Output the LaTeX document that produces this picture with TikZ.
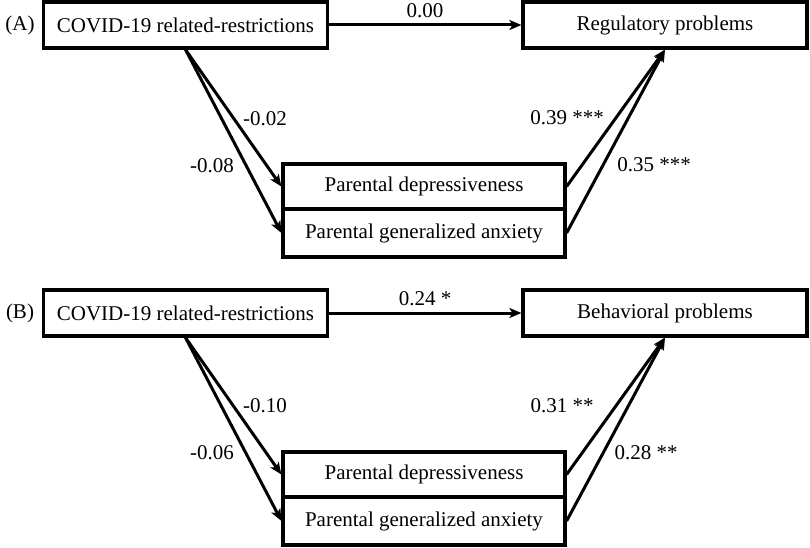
\documentclass[tikz,border=0pt]{standalone}
\usepackage{fontspec}
\setmainfont{Liberation Serif}
\usetikzlibrary{arrows, arrows.meta, positioning}
\tikzset{
>={Stealth[length=12pt, width=10pt, inset=3pt]}, % heavy arrow heads
var/.style={draw, line width=3.2pt, minimum width=284pt, minimum height=46pt, inner sep=0pt, font=\fontsize{21}{25}\selectfont}, % boxes for the variables
link/.style={->, line width=3pt}, % paths between the boxes
coef/.style={font=\fontsize{21}{25}\selectfont}, % path coefficients
}

\begin{document}
\begin{tikzpicture}[x=1pt, y=-1pt]
      \useasboundingbox (0,0) rectangle (810,548);

      % (A)
      \node[coef] (tagA) at (20,25) {(A)};
      \node[var] (covidA) at (185.5,25) {COVID-19 related-restrictions};
      \node[var] (regA) at (665,25) {Regulatory problems};
      \node[var, minimum width=282pt, minimum height=45pt] (depA) at (424,186.5) {Parental depressiveness};
      \node[var, minimum width=282pt, minimum height=48pt] (anxA) at (424,233) {Parental generalized anxiety};

      \node[coef] (cA) at (425,11) {0.00};
      \node[coef] (a1A) at (265,119) {-0.02};
      \node[coef] (a2A) at (212,166) {-0.08};
      \node[coef] (b1A) at (567,118) {0.39 ***};
      \node[coef] (b2A) at (654,165) {0.35 ***};

      \draw[link] (covidA) -- (regA);
      \draw[link] (covidA.south) -- (depA.west);
      \draw[link] (covidA.south) -- (anxA.west);
      \draw[link] (depA.east) -- (regA.south);
      \draw[link] (anxA.east) -- (regA.south);

      % (B)
      \node[coef] (tagB) at (20,313) {(B)};
      \node[var] (covidB) at (185.5,313) {COVID-19 related-restrictions};
      \node[var] (behB) at (665,313) {Behavioral problems};
      \node[var, minimum width=282pt, minimum height=45pt] (depB) at (424,474.5) {Parental depressiveness};
      \node[var, minimum width=282pt, minimum height=48pt] (anxB) at (424,521) {Parental generalized anxiety};

      \node[coef] (cB) at (425,299) {0.24 *};
      \node[coef] (a1B) at (265,406) {-0.10};
      \node[coef] (a2B) at (212,453) {-0.06};
      \node[coef] (b1B) at (562,406) {0.31 **};
      \node[coef] (b2B) at (646,453) {0.28 **};

      \draw[link] (covidB) -- (behB);
      \draw[link] (covidB.south) -- (depB.west);
      \draw[link] (covidB.south) -- (anxB.west);
      \draw[link] (depB.east) -- (behB.south);
      \draw[link] (anxB.east) -- (behB.south);
\end{tikzpicture}
\end{document}
